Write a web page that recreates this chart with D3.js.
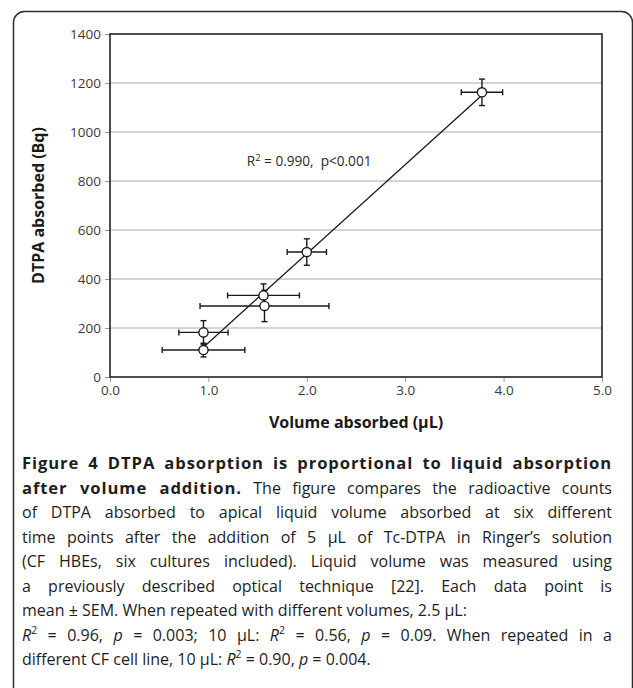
<!DOCTYPE html>
<html>
<head>
<meta charset="utf-8">
<script src="https://cdn.jsdelivr.net/npm/d3@7"></script>
<style>
  body { margin: 0; background: #fff; }
  svg { display: block; }
</style>
</head>
<body>
<div class="canvas"></div>
<script>
// data
const volume = [0.95, 0.95, 1.56, 1.57, 2.0, 3.78];
const volumeErr = [0.42, 0.25, 0.365, 0.655, 0.2, 0.21];
const dtpa = [110, 182, 333, 290, 510, 1162];
const dtpaErr = [28, 48, 47, 64, 54, 54];
const xTicks = [0, 1, 2, 3, 4, 5];
const yTicks = [0, 200, 400, 600, 800, 1000, 1200, 1400];

// caption lines: [text, style] runs, style b = bold, i = italic, s = superscript
const caption = [
  { justify: true, runs: [["Figure 4 DTPA absorption is proportional to liquid absorption", "b"]] },
  { justify: true, runs: [["after volume addition.", "b"], [" The figure compares the radioactive counts", ""]] },
  { justify: true, runs: [["of DTPA absorbed to apical liquid volume absorbed at six different", ""]] },
  { justify: true, runs: [["time points after the addition of 5 \u00b5L of Tc-DTPA in Ringer\u2019s solution", ""]] },
  { justify: true, runs: [["(CF HBEs, six cultures included). Liquid volume was measured using", ""]] },
  { justify: true, runs: [["a previously described optical technique [22]. Each data point is", ""]] },
  { justify: false, runs: [["mean \u00b1 SEM. When repeated with different volumes, 2.5 \u00b5L:", ""]] },
  { justify: true, runs: [["R", "i"], ["2", "s"], [" = 0.96, ", ""], ["p", "i"], [" = 0.003; 10 \u00b5L: ", ""], ["R", "i"], ["2", "s"],
    [" = 0.56, ", ""], ["p", "i"], [" = 0.09. When repeated in a", ""]] },
  { justify: false, runs: [["different CF cell line, 10 \u00b5L: ", ""], ["R", "i"], ["2", "s"], [" = 0.90, ", ""], ["p", "i"], [" = 0.004.", ""]] }
];

const width = 633;
const height = 688;
const margin = { top: 34, left: 110 };
const graphWidth = 492;
const graphHeight = 343;

const svg = d3
  .select(".canvas")
  .append("svg")
  .attr("width", width)
  .attr("height", height);

// card outline
svg
  .append("rect")
  .attr("x", 13.5)
  .attr("y", 11.5)
  .attr("width", 619)
  .attr("height", 690)
  .attr("rx", 11)
  .attr("fill", "none")
  .attr("stroke", "#2b2b2b")
  .attr("stroke-width", 1.5);

const graph = svg
  .append("g")
  .attr("transform", `translate(${margin.left}, ${margin.top})`);

const x = d3.scaleLinear().domain([0, 5]).range([0, graphWidth]);
const y = d3.scaleLinear().domain([0, 1400]).range([graphHeight, 0]);

//gridlines
graph
  .append("g")
  .selectAll("line")
  .data(yTicks.filter(d => d > 0 && d < 1400))
  .enter()
  .append("line")
  .attr("x1", 0)
  .attr("x2", graphWidth)
  .attr("y1", d => y(d))
  .attr("y2", d => y(d))
  .attr("stroke", "#a8a8a8")
  .attr("stroke-width", 1);

//axes
const tickFont = "'Open Sans', sans-serif";

const xAxisGroup = graph
  .append("g")
  .attr("transform", `translate(0, ${graphHeight})`)
  .call(d3.axisBottom(x).tickValues(xTicks).tickSize(5).tickPadding(3).tickFormat(d3.format(".1f")));

const yAxisGroup = graph
  .append("g")
  .call(d3.axisLeft(y).tickValues(yTicks).tickSize(5).tickPadding(4).tickFormat(d => d));

[xAxisGroup, yAxisGroup].forEach(g => {
  g.select(".domain").remove();
  g.selectAll(".tick line").attr("stroke", "#9a9a9a");
  g.selectAll(".tick text")
    .attr("fill", "#3a3a3a")
    .style("font-family", tickFont)
    .style("font-size", "13.5px");
});
yAxisGroup.selectAll(".tick text").attr("dy", "0.34em");

//plot frame
graph
  .append("rect")
  .attr("width", graphWidth)
  .attr("height", graphHeight)
  .attr("fill", "none")
  .attr("stroke", "#222")
  .attr("stroke-width", 1.6);

const points = volume.map((v, i) => ({ x: v, xe: volumeErr[i], y: dtpa[i], ye: dtpaErr[i] }));

//error bars
const bars = graph.append("g").attr("stroke", "#1a1a1a").attr("stroke-width", 1.4);
const cap = 3;
points.forEach(d => {
  bars.append("line")
    .attr("x1", x(d.x - d.xe)).attr("x2", x(d.x + d.xe))
    .attr("y1", y(d.y)).attr("y2", y(d.y));
  bars.append("line")
    .attr("x1", x(d.x)).attr("x2", x(d.x))
    .attr("y1", y(d.y - d.ye)).attr("y2", y(d.y + d.ye));
  [d.x - d.xe, d.x + d.xe].forEach(v => {
    bars.append("line")
      .attr("x1", x(v)).attr("x2", x(v))
      .attr("y1", y(d.y) - cap).attr("y2", y(d.y) + cap);
  });
  [d.y - d.ye, d.y + d.ye].forEach(v => {
    bars.append("line")
      .attr("x1", x(d.x) - cap).attr("x2", x(d.x) + cap)
      .attr("y1", y(v)).attr("y2", y(v));
  });
});

//least squares trend line
const mx = d3.mean(volume);
const my = d3.mean(dtpa);
const slope = d3.sum(volume, (v, i) => (v - mx) * (dtpa[i] - my)) / d3.sum(volume, v => (v - mx) ** 2);
const intercept = my - slope * mx;
const xr = d3.extent(volume);

graph
  .append("path")
  .datum(xr)
  .attr("fill", "none")
  .attr("stroke", "#1a1a1a")
  .attr("stroke-width", 1.3)
  .attr("d", d3.line().x(d => x(d)).y(d => y(intercept + slope * d)));

//points
graph
  .selectAll("circle")
  .data(points)
  .enter()
  .append("circle")
  .attr("cx", d => x(d.x))
  .attr("cy", d => y(d.y))
  .attr("r", 4.6)
  .attr("fill", "#fff")
  .attr("stroke", "#1a1a1a")
  .attr("stroke-width", 1.4);

//stats label
const stat = graph
  .append("text")
  .attr("x", x(1.39))
  .attr("y", y(860))
  .attr("fill", "#2a2a2a")
  .style("font-family", tickFont)
  .style("font-size", "13.6px");
stat.append("tspan").text("R");
stat.append("tspan").attr("dy", -5).style("font-size", "9.5px").text("2");
stat.append("tspan").attr("dy", 5).style("white-space", "pre").text(" = 0.990,  p<0.001");

//axis titles
const titleFont = "'Open Sans', sans-serif";
svg
  .append("text")
  .attr("x", margin.left + graphWidth / 2)
  .attr("y", 428)
  .attr("text-anchor", "middle")
  .attr("fill", "#1a1a1a")
  .style("font-family", titleFont)
  .style("font-weight", "bold")
  .style("font-size", "16px")
  .text("Volume absorbed (\u00b5L)");

svg
  .append("text")
  .attr("transform", `translate(44, ${margin.top + graphHeight / 2}) rotate(-90)`)
  .attr("text-anchor", "middle")
  .attr("fill", "#1a1a1a")
  .style("font-family", titleFont)
  .style("font-weight", "bold")
  .style("font-size", "16px")
  .text("DTPA absorbed (Bq)");

//caption, justified by stretching word gaps
const capLeft = 22;
const capRight = 612;
const capTop = 469;
const capStep = 24.5;

caption.forEach((line, li) => {
  const t = svg
    .append("text")
    .attr("x", capLeft)
    .attr("y", capTop + li * capStep)
    .attr("fill", "#1e1e1e")
    .style("font-family", "'Open Sans', sans-serif")
    .style("font-size", "16px")
    .style("white-space", "pre");
  let raised = false;
  line.runs.forEach(([txt, st]) => {
    const sp = t.append("tspan").text(txt);
    if (st === "b") sp.style("font-weight", "bold").style("font-size", "16.6px").style("letter-spacing", "0.9px");
    if (st === "i") sp.style("font-style", "italic");
    if (st === "s") {
      sp.attr("dy", -7).style("font-size", "10.5px");
      raised = true;
    } else if (raised) {
      sp.attr("dy", 7);
      raised = false;
    }
  });
  if (line.justify) {
    const natural = t.node().getComputedTextLength();
    const gaps = line.runs.map(r => r[0]).join("").split(" ").length - 1;
    if (gaps > 0) t.attr("word-spacing", (capRight - capLeft - natural) / gaps);
  }
});
</script>
</body>
</html>
